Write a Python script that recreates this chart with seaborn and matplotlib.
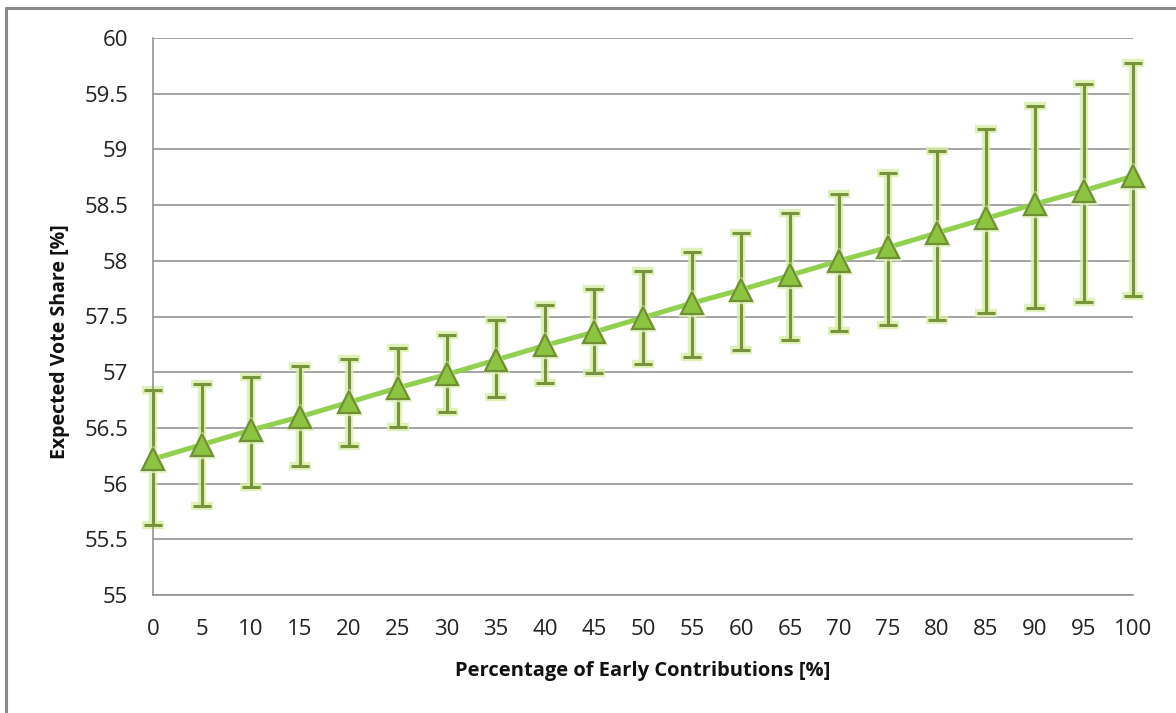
import numpy as np
import pandas as pd
import matplotlib
matplotlib.use("Agg")
import matplotlib.pyplot as plt
import seaborn as sns
from matplotlib.lines import Line2D


# Data
early_pct = [0, 5, 10, 15, 20, 25, 30, 35, 40, 45, 50,
             55, 60, 65, 70, 75, 80, 85, 90, 95, 100]
vote_share = [56.22, 56.35, 56.48, 56.60, 56.73, 56.86, 56.98, 57.11, 57.24, 57.36, 57.49,
              57.62, 57.74, 57.87, 58.00, 58.12, 58.25, 58.38, 58.51, 58.63, 58.76]
upper_ci = [56.84, 56.89, 56.96, 57.06, 57.12, 57.22, 57.33, 57.47, 57.60, 57.75, 57.91,
            58.08, 58.25, 58.43, 58.60, 58.79, 58.99, 59.18, 59.39, 59.59, 59.78]
lower_ci = [55.63, 55.80, 55.97, 56.16, 56.34, 56.51, 56.64, 56.78, 56.90, 56.99, 57.07,
            57.14, 57.20, 57.29, 57.37, 57.42, 57.47, 57.53, 57.58, 57.63, 57.68]
y_ticks = [55, 55.5, 56, 56.5, 57, 57.5, 58, 58.5, 59, 59.5, 60]

df = pd.DataFrame({'early': early_pct, 'share': vote_share,
                   'upper': upper_ci, 'lower': lower_ci})

sns.set_theme(style="white")
plt.rcParams['font.family'] = ['Open Sans', 'DejaVu Sans']

fig = plt.figure(figsize=(11.76, 7.13), dpi=100)
ax = fig.add_axes([153 / 1176, 118 / 713, 980 / 1176, 557 / 713])

yerr = [df['share'] - df['lower'], df['upper'] - df['share']]

# soft glow behind the error bars
glow = ax.errorbar(df['early'], df['share'], yerr=yerr, fmt='none', ecolor='#d9efa8',
                   elinewidth=6, capsize=7.8, capthick=6, alpha=0.8, zorder=2)
bars = ax.errorbar(df['early'], df['share'], yerr=yerr, fmt='none', ecolor='#77933C',
                   elinewidth=2.2, capsize=6.3, capthick=2.2, zorder=3)
for container in (glow, bars):
    for art in container.lines[1] + container.lines[2]:
        art.set_clip_on(False)

# line + triangle markers
sns.lineplot(data=df, x='early', y='share', ax=ax, color='#92D050', linewidth=3.6,
             zorder=4)
ax.plot(df['early'], df['share'], linestyle='none', marker='^', markersize=19,
        markerfacecolor='#e2f3bf', markeredgecolor='#e2f3bf', alpha=0.7, zorder=5,
        clip_on=False)
ax.plot(df['early'], df['share'], linestyle='none', marker='^', markersize=16,
        markerfacecolor='#8CC43F', markeredgecolor='#6F8F32', markeredgewidth=1.6,
        zorder=6, clip_on=False)

ax.set_xlim(0, 100)
ax.set_ylim(55, 60)
ax.set_xticks(early_pct)
ax.set_xticklabels([str(v) for v in early_pct])
ax.set_yticks(y_ticks)
ax.set_yticklabels([f'{v:g}' for v in y_ticks])

ax.grid(axis='y', color='#8c8c8c', linewidth=1.1)
ax.set_axisbelow(True)
for side in ['top', 'right']:
    ax.spines[side].set_visible(False)
for side in ['left', 'bottom']:
    ax.spines[side].set_color('#8c8c8c')
    ax.spines[side].set_linewidth(1.1)

ax.tick_params(axis='both', which='major', direction='out', length=8, width=1.1,
               color='#8c8c8c', labelsize=16, labelcolor='#222222')
ax.tick_params(axis='x', pad=9)
ax.tick_params(axis='y', pad=10)

ax.set_xlabel('Percentage of Early Contributions [%]', fontsize=14.5,
              fontweight='bold', color='#111111')
ax.set_ylabel('Expected Vote Share [%]', fontsize=14, fontweight='bold',
              color='#111111')
ax.xaxis.set_label_coords(0.5, -0.118)
ax.yaxis.set_label_coords(-0.085, 0.455)

# outer chart frame (only left and top edges visible)
fig.add_artist(Line2D([6 / 1176, 6 / 1176], [0, 1 - 8 / 713], transform=fig.transFigure,
                      color='#8a8a8a', linewidth=2.2))
fig.add_artist(Line2D([6 / 1176, 1], [1 - 8 / 713, 1 - 8 / 713], transform=fig.transFigure,
                      color='#8a8a8a', linewidth=2.2))

fig.savefig('out.png', dpi=100)
